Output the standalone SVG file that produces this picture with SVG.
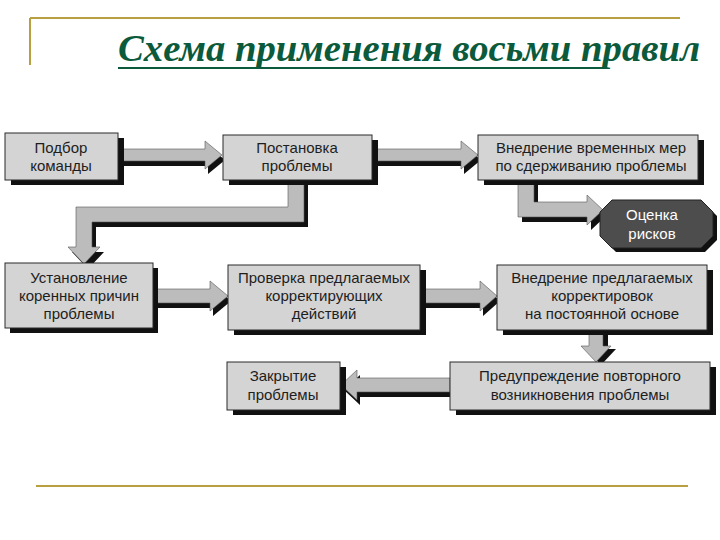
<svg xmlns="http://www.w3.org/2000/svg" width="720" height="540" viewBox="0 0 720 540">
<style>
.frame{stroke:#b8a040;stroke-width:2;fill:none}
.title{font-family:"Liberation Serif","Times New Roman",serif;font-style:italic;font-weight:bold;font-size:37px;fill:#0b5a3c}
.box{fill:#d4d4d4;stroke:#2a2a2a;stroke-width:1}
.sh{fill:#111}
.oct{fill:#4d4d4d;stroke:#222;stroke-width:1}
.arr{fill:#bcbcbc;stroke:#555;stroke-width:0.6}
.ash{fill:#111}
.t{font-family:"Liberation Sans",Arial,sans-serif;font-size:15px;fill:#1e1e1e;text-anchor:middle}
.tw{font-family:"Liberation Sans",Arial,sans-serif;font-size:15px;fill:#fff;text-anchor:middle}
</style>
<rect width="720" height="540" fill="#fff"/>
<g id="frame">
<line class="frame" x1="30" y1="18" x2="680" y2="18"/>
<line class="frame" x1="30" y1="18" x2="30" y2="65"/>
<line class="frame" x1="36" y1="486" x2="688" y2="486"/>
</g>
<g id="title">
<text class="title" x="118" y="61" textLength="582" lengthAdjust="spacingAndGlyphs">Схема применения восьми правил</text>
<line x1="118" y1="68" x2="606" y2="68" stroke="#0b5a3c" stroke-width="2"/>
</g>
<g id="connectors">
<!-- 1 -> 2 -->
<polygon class="ash" transform="translate(3,5)" points="118,149 205,149 205,141 222,155 205,169 205,161 118,161"/>
<polygon class="arr" points="118,149 205,149 205,141 222,155 205,169 205,161 118,161"/>
<!-- 2 -> 3 -->
<polygon class="ash" transform="translate(3,5)" points="372,149 461,149 461,141 478,155 461,169 461,161 372,161"/>
<polygon class="arr" points="372,149 461,149 461,141 478,155 461,169 461,161 372,161"/>
<!-- 2 -> 5 -->
<polygon class="ash" transform="translate(4,5)" points="288,180 304,180 304,222 92,222 92,247 100,247 84,264 68,247 76,247 76,207 288,207"/>
<polygon class="arr" points="288,180 304,180 304,222 92,222 92,247 100,247 84,264 68,247 76,247 76,207 288,207"/>
<!-- 3 -> 4 -->
<polygon class="ash" transform="translate(4,5)" points="518,180 534,180 534,202 587,202 587,195 603,210 587,225 587,217 518,217"/>
<polygon class="arr" points="518,180 534,180 534,202 587,202 587,195 603,210 587,225 587,217 518,217"/>
<!-- 5 -> 6 -->
<polygon class="ash" transform="translate(3,5)" points="153,289 210,289 210,281 228,296 210,311 210,303 153,303"/>
<polygon class="arr" points="153,289 210,289 210,281 228,296 210,311 210,303 153,303"/>
<!-- 6 -> 7 -->
<polygon class="ash" transform="translate(3,5)" points="420,289 480,289 480,281 497,296 480,311 480,303 420,303"/>
<polygon class="arr" points="420,289 480,289 480,281 497,296 480,311 480,303 420,303"/>
<!-- 7 -> 9 -->
<polygon class="ash" transform="translate(5,3)" points="589,330 603,330 603,346 611,346 596,362 581,346 589,346"/>
<polygon class="arr" points="589,330 603,330 603,346 611,346 596,362 581,346 589,346"/>
<!-- 9 -> 8 -->
<polygon class="ash" transform="translate(3,5)" points="450,378 357,378 357,370 341,385 357,400 357,392 450,392"/>
<polygon class="arr" points="450,378 357,378 357,370 341,385 357,400 357,392 450,392"/>
</g>
<g id="n1">
<rect class="sh" x="11" y="138" width="113" height="47"/>
<rect class="box" x="5" y="133" width="113" height="47"/>
<text class="t" x="61" y="153">Подбор</text>
<text class="t" x="61" y="171">команды</text>
</g>
<g id="n2">
<rect class="sh" x="229" y="140" width="149" height="45"/>
<rect class="box" x="223" y="135" width="149" height="45"/>
<text class="t" x="297" y="153">Постановка</text>
<text class="t" x="297" y="171">проблемы</text>
</g>
<g id="n3">
<rect class="sh" x="484" y="140" width="220" height="45"/>
<rect class="box" x="478" y="135" width="220" height="45"/>
<text class="t" x="591" y="153">Внедрение временных мер</text>
<text class="t" x="591" y="171">по сдерживанию проблемы</text>
</g>
<g id="n4">
<polygon class="sh" transform="translate(4,4)" points="612,200 701,200 713,212 713,236 701,248 612,248 600,236 600,212"/>
<polygon class="oct" points="612,200 701,200 713,212 713,236 701,248 612,248 600,236 600,212"/>
<text class="tw" x="652" y="220">Оценка</text>
<text class="tw" x="652" y="239">рисков</text>
</g>
<g id="n5">
<rect class="sh" x="10" y="268" width="148" height="65"/>
<rect class="box" x="5" y="263" width="148" height="65"/>
<text class="t" x="79" y="283">Установление</text>
<text class="t" x="79" y="301">коренных причин</text>
<text class="t" x="79" y="319">проблемы</text>
</g>
<g id="n6">
<rect class="sh" x="234" y="270" width="192" height="65"/>
<rect class="box" x="228" y="265" width="192" height="65"/>
<text class="t" x="324" y="283">Проверка предлагаемых</text>
<text class="t" x="324" y="301">корректирующих</text>
<text class="t" x="324" y="319">действий</text>
</g>
<g id="n7">
<rect class="sh" x="503" y="270" width="210" height="65"/>
<rect class="box" x="497" y="265" width="210" height="65"/>
<text class="t" x="602" y="283">Внедрение предлагаемых</text>
<text class="t" x="602" y="301">корректировок</text>
<text class="t" x="602" y="319">на постоянной основе</text>
</g>
<g id="n8">
<rect class="sh" x="233" y="367" width="113" height="48"/>
<rect class="box" x="227" y="362" width="113" height="48"/>
<text class="t" x="283" y="381">Закрытие</text>
<text class="t" x="283" y="400">проблемы</text>
</g>
<g id="n9">
<rect class="sh" x="456" y="367" width="260" height="48"/>
<rect class="box" x="450" y="362" width="260" height="48"/>
<text class="t" x="580" y="381">Предупреждение повторного</text>
<text class="t" x="580" y="400">возникновения проблемы</text>
</g>
</svg>
